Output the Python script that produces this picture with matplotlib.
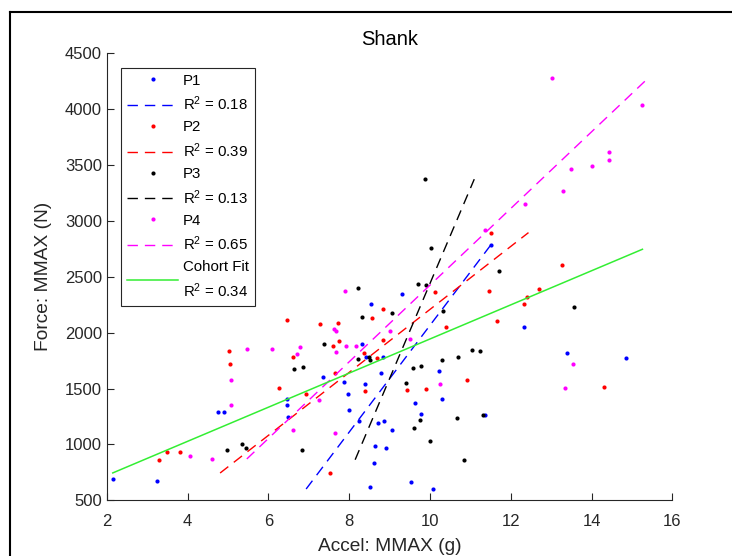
import numpy as np
import matplotlib
matplotlib.use('Agg')
import matplotlib.pyplot as plt
from matplotlib.lines import Line2D

plt.rcParams['font.family'] = ['Liberation Sans', 'DejaVu Sans']
plt.rcParams['mathtext.fontset'] = 'custom'
plt.rcParams['mathtext.rm'] = 'Liberation Sans'
plt.rcParams['mathtext.default'] = 'regular'

# Shank data: peak acceleration (g) vs peak force (N)
p1_accel = [2.15, 3.25, 4.76, 4.90, 6.47, 6.46, 6.48, 9.30, 8.55, 8.33, 8.41, 8.85, 7.35,
            8.78, 10.23, 7.87, 8.39, 7.97, 9.62, 10.30, 7.99, 9.78, 8.25, 8.72, 8.86, 9.06,
            11.36, 8.63, 8.92, 8.62, 8.52, 9.52, 10.07, 11.52, 12.32, 13.40, 14.85]
p1_force = [693, 675, 1293, 1293, 1406, 1355, 1243, 2349, 2257, 1901, 1780, 1780, 1603,
            1640, 1657, 1556, 1538, 1448, 1374, 1404, 1305, 1272, 1213, 1189, 1213, 1126,
            1266, 989, 971, 834, 619, 664, 601, 2787, 2053, 1818, 1776]

p2_accel = [3.30, 3.49, 3.81, 5.03, 5.04, 6.27, 6.47, 6.60, 6.94, 7.28, 7.73, 10.13, 8.83,
            8.56, 10.39, 7.74, 7.61, 8.83, 8.36, 8.69, 7.66, 8.40, 9.44, 9.90, 10.91, 7.53,
            11.51, 11.47, 11.66, 13.28, 12.71, 12.40, 12.32, 14.30]
p2_force = [858, 932, 932, 1836, 1720, 1505, 2111, 1782, 1454, 2080, 2084, 2361, 2209,
            2131, 2053, 1925, 1878, 1932, 1818, 1771, 1640, 1481, 1487, 1496, 1574, 744,
            2895, 2376, 2104, 2606, 2394, 2322, 2259, 1511]

p3_accel = [4.97, 5.34, 5.45, 6.63, 6.85, 6.84, 8.23, 9.71, 9.90, 9.05, 8.31, 10.32, 7.39,
            8.23, 8.50, 8.51, 9.59, 9.78, 10.29, 10.70, 11.04, 11.25, 9.41, 9.76, 9.61,
            10.68, 11.31, 9.99, 10.84, 9.87, 10.02, 11.71, 13.57]
p3_force = [950, 1006, 965, 1678, 1690, 950, 2403, 2438, 2429, 2176, 2138, 2191, 1899,
            1762, 1780, 1758, 1687, 1702, 1753, 1785, 1848, 1839, 1553, 1219, 1147,
            1239, 1266, 1028, 863, 3373, 2755, 2549, 2232]

p4_accel = [4.07, 4.60, 5.08, 5.07, 5.48, 6.09, 6.60, 6.79, 6.72, 7.89, 7.63, 7.68, 9.01,
            7.93, 8.16, 9.51, 7.68, 10.25, 7.26, 7.66, 11.36, 13.01, 15.26, 14.42, 14.42,
            14.00, 13.49, 13.30, 12.36, 13.55, 13.35]
p4_force = [894, 870, 1574, 1353, 1851, 1851, 1126, 1874, 1809, 2376, 2030, 2015, 2015,
            1883, 1878, 1941, 1827, 1538, 1398, 1102, 2916, 4279, 4035, 3617, 3543,
            3489, 3462, 3268, 3149, 1723, 1505]

names = ['P1', 'P2', 'P3', 'P4']
r2_text = ['0.18', '0.39', '0.13', '0.65']
cohort_r2 = '0.34'
colors = ['#0000ff', '#ff0000', '#000000', '#ff00ff']

accel = [p1_accel, p2_accel, p3_accel, p4_accel]
force = [p1_force, p2_force, p3_force, p4_force]

fig = plt.figure(figsize=(7.32, 5.56), dpi=100)
ax = fig.add_axes([0.1458, 0.1002, 0.7727, 0.8041])

handles = []
labels = []
for k in range(4):
    x = np.array(accel[k])
    y = np.array(force[k])
    pts, = ax.plot(x, y, 'o', color=colors[k], ms=3, mew=0)
    # per-participant fit: accel regressed on force, drawn over the force range
    b, a = np.polyfit(y, x, 1)
    yy = np.array([y.min(), y.max()])
    fit, = ax.plot(a + b * yy, yy, '--', color=colors[k], lw=1, dashes=(7.5, 5))
    handles += [pts, fit]
    labels += [names[k], 'R$^2$ = ' + r2_text[k]]

# cohort fit over all participants
xa = np.concatenate([np.array(a_) for a_ in accel])
ya = np.concatenate([np.array(f_) for f_ in force])
m, c = np.polyfit(xa, ya, 1)
xx = np.array([xa.min(), xa.max()])
cohort, = ax.plot(xx, m * xx + c, '-', color='#33ee33', lw=1.1)
handles.append(cohort)
labels.append('Cohort Fit\nR$^2$ = ' + cohort_r2)

ax.set_xlim(2, 16)
ax.set_ylim(500, 4500)
ax.set_xticks(np.arange(2, 17, 2))
ax.set_yticks(np.arange(500, 4501, 500))
ax.spines['top'].set_visible(False)
ax.spines['right'].set_visible(False)
for s in ['left', 'bottom']:
    ax.spines[s].set_color('#262626')
    ax.spines[s].set_linewidth(0.8)
ax.tick_params(direction='in', length=5, width=0.8, colors='#262626', labelsize=12,
               labelcolor='#262626')
ax.tick_params(axis='x', pad=10)
ax.set_xlabel('Accel: MMAX (g)', fontsize=13.8, color='#262626', labelpad=6)
ax.set_ylabel('Force: MMAX (N)', fontsize=13.8, color='#262626', labelpad=9)
ax.set_title('Shank', fontsize=14.5, color='black', pad=6)

leg = ax.legend(handles, labels, loc='upper left', bbox_to_anchor=(0.0253, 0.9678),
                borderaxespad=0, fontsize=10.8, fancybox=False, framealpha=1,
                edgecolor='#262626', handlelength=3.4, handletextpad=0.3,
                borderpad=0.4, labelspacing=0.47)
leg.get_frame().set_linewidth(0.8)
leg.get_texts()[-1].set_linespacing(1.45)

# outer frame of the screenshot
fig.add_artist(Line2D([10 / 732, 1], [1 - 12 / 556] * 2, color='black', lw=1.5))
fig.add_artist(Line2D([10 / 732] * 2, [0, 1 - 12 / 556], color='black', lw=1.5))

fig.savefig('out.png', dpi=100)
